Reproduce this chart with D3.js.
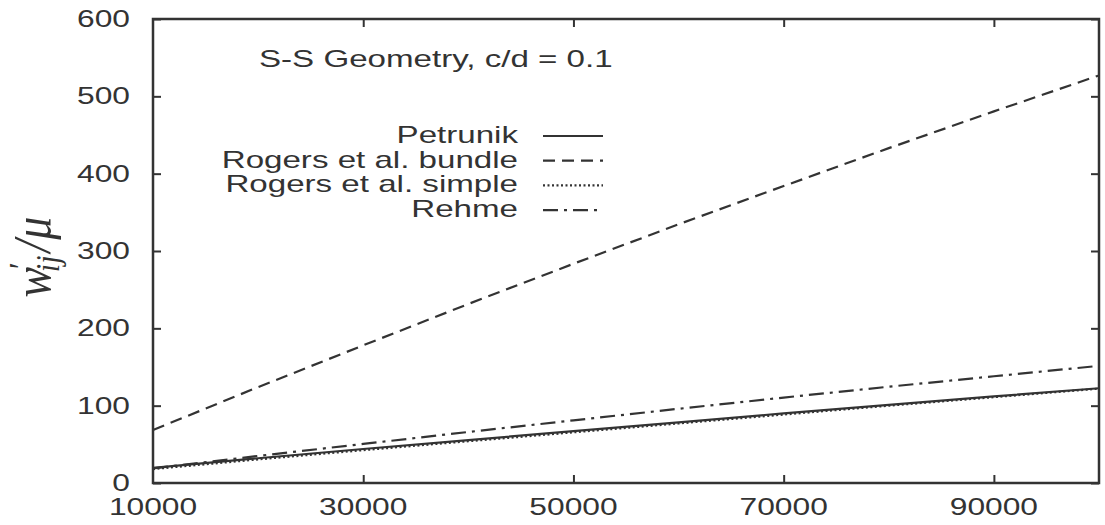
<!DOCTYPE html>
<html>
<head>
<meta charset="utf-8">
<script src="https://cdn.jsdelivr.net/npm/d3@7"></script>
<style>
  body { margin: 0; background: #fff; }
  svg { display: block; }
  .lbl { font-family: "Liberation Sans", Arial, sans-serif; fill: #333; }
</style>
</head>
<body>
<svg width="1105" height="525"></svg>
<script>
// data
var xValues = [10000, 20000, 30000, 40000, 50000, 60000, 70000, 80000, 90000, 100000];
var petrunik = [19.5, 32, 44, 55.5, 67, 78.5, 90, 101, 112, 122.5];
var rogersBundle = [68.5, 124, 178, 231.5, 283.5, 334.5, 384, 433, 480.5, 527];
var rogersSimple = [18, 30.5, 42.5, 54, 65.5, 77, 88.5, 100, 111, 122];
var rehme = [19, 35, 50.5, 66, 81, 96, 110.5, 124.5, 138, 151.5];
var seriesNames = ["Petrunik", "Rogers et al. bundle", "Rogers et al. simple", "Rehme"];
var xTicks = [30000, 50000, 70000, 90000];
var xTickLabels = [10000, 30000, 50000, 70000, 90000];
var yTicks = [0, 100, 200, 300, 400, 500, 600];

var svg = d3.select("svg"),
    width = +svg.attr("width"),
    height = +svg.attr("height");

var margin = {top: 19, right: 6, bottom: 42, left: 153},
    w = width - margin.left - margin.right,
    h = height - margin.top - margin.bottom;

var ink = "#333",
    stretch = 1.38; // the scanned figure is wider than tall

var x = d3.scaleLinear().domain([10000, 100000]).range([0, w]);
var y = d3.scaleLinear().domain([0, 600]).range([h, 0]);

var g = svg.append("g").attr("transform", "translate(" + margin.left + "," + margin.top + ")");

// inward ticks on all four sides
function tickAxis(axis, tr) {
  var a = g.append("g").attr("transform", tr).call(axis);
  a.select(".domain").remove();
  a.selectAll("line").attr("stroke", ink).attr("stroke-width", 2);
  a.selectAll("text").remove();
  return a;
}
tickAxis(d3.axisBottom(x).tickValues(xTicks).tickSize(-8), "translate(0," + h + ")");
tickAxis(d3.axisTop(x).tickValues(xTicks).tickSize(-8), "translate(0,0)");
tickAxis(d3.axisLeft(y).tickValues(yTicks).tickSize(-8), "translate(0,0)");
tickAxis(d3.axisRight(y).tickValues(yTicks).tickSize(-8), "translate(" + w + ",0)");

// tick labels
g.selectAll(".xl").data(xTickLabels).enter().append("text")
    .attr("class", "lbl")
    .attr("text-anchor", "middle")
    .attr("font-size", 23)
    .attr("transform", function (d) { return "translate(" + x(d) + "," + (h + 32) + ") scale(" + stretch + ",1)"; })
    .text(function (d) { return d; });

g.selectAll(".yl").data(yTicks).enter().append("text")
    .attr("class", "lbl")
    .attr("text-anchor", "end")
    .attr("font-size", 23)
    .attr("transform", function (d) { return "translate(-23," + (y(d) + 8) + ") scale(" + stretch + ",1)"; })
    .text(function (d) { return d; });

// the lines
var series = [
  {name: seriesNames[0], values: petrunik, dash: null},
  {name: seriesNames[1], values: rogersBundle, dash: "12,7"},
  {name: seriesNames[2], values: rogersSimple, dash: "2,2.5"},
  {name: seriesNames[3], values: rehme, dash: "15,6,3,6"}
];

var line = d3.line()
    .x(function (d, i) { return x(xValues[i]); })
    .y(function (d) { return y(d); });

g.selectAll(".series").data(series).enter().append("path")
    .attr("d", function (d) { return line(d.values); })
    .attr("fill", "none")
    .attr("stroke", ink)
    .attr("stroke-width", 2.2)
    .attr("stroke-dasharray", function (d) { return d.dash; });

// frame
g.append("rect")
    .attr("width", w).attr("height", h)
    .attr("fill", "none").attr("stroke", ink).attr("stroke-width", 2.5);

// title inside plot
svg.append("text")
    .attr("class", "lbl")
    .attr("font-size", 24)
    .attr("transform", "translate(259,67) scale(" + stretch + ",1)")
    .text("S-S Geometry, c/d = 0.1");

// legend
var legend = svg.selectAll(".leg").data(series).enter().append("g")
    .attr("transform", function (d, i) { return "translate(518," + (143 + i * 24.7) + ")"; });

legend.append("text")
    .attr("class", "lbl")
    .attr("text-anchor", "end")
    .attr("font-size", 24)
    .attr("transform", "scale(" + stretch + ",1)")
    .text(function (d) { return d.name; });

legend.append("line")
    .attr("x1", 25).attr("x2", 85)
    .attr("y1", -7).attr("y2", -7)
    .attr("stroke", ink)
    .attr("stroke-width", 2.2)
    .attr("stroke-dasharray", function (d) { return d.dash; });

// y axis label  w'_ij / mu
var yl = svg.append("text")
    .attr("transform", "translate(50,257) rotate(-90) scale(1,1.15)")
    .attr("text-anchor", "middle")
    .attr("font-family", "'Liberation Serif', 'DejaVu Serif', serif")
    .attr("font-style", "italic")
    .attr("font-size", 46)
    .attr("fill", ink);
yl.append("tspan").text("w");
yl.append("tspan").attr("font-size", 30).attr("dy", -16).attr("dx", -4).text("\u2032");
yl.append("tspan").attr("font-size", 30).attr("dy", 24).attr("dx", -8).text("ij");
yl.append("tspan").attr("dy", -8).attr("dx", 3).text("/\u03bc");
</script>
</body>
</html>
